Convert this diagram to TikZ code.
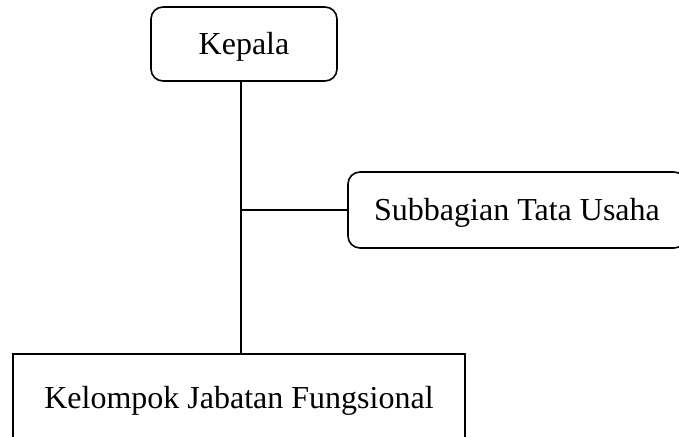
\documentclass[tikz,border=0pt]{standalone}
\usepackage{fontspec}
\setmainfont{Liberation Serif}
\begin{document}
\begin{tikzpicture}[x=1pt,y=-1pt,
  unit/.style={draw,line width=1.6pt,inner sep=0pt,text height=21.5pt,text depth=0pt,
    font=\fontsize{32}{38}\selectfont},
  roundunit/.style={unit,rounded corners=12pt}]
\clip (0,0) rectangle (679,436);
\node[roundunit,minimum width=186pt,minimum height=74pt] (kepala) at (244,44) {Kepala};
\node[roundunit,minimum width=338pt,minimum height=76pt] (sub) at (517,210) {Subbagian Tata Usaha};
\node[unit,minimum width=452pt,minimum height=87pt] (kjf) at (239,397.5) {Kelompok Jabatan Fungsional};
\draw[line width=1.4pt] (kepala.south) ++(-3,0) coordinate (top) -- (top |- kjf.north);
\draw[line width=1.2pt] (top |- sub.west) -- (sub.west);
\end{tikzpicture}
\end{document}
